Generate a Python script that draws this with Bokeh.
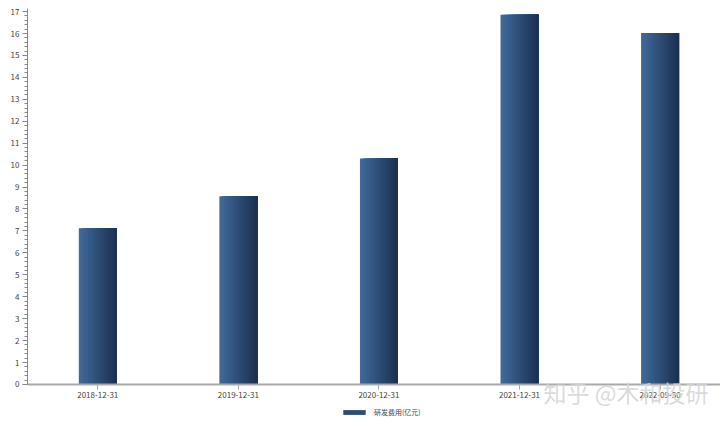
import numpy as np
from bokeh.plotting import figure
from bokeh.models import Range1d, FixedTicker, Legend, LegendItem, Label, ColumnDataSource
from bokeh.embed import file_html
from bokeh.resources import INLINE

categories = ["2018-12-31", "2019-12-31", "2020-12-31", "2021-12-31", "2022-09-30"]
rd_expense = [7.12, 8.58, 10.30, 16.85, 16.02]
series_name = "研发费用(亿元)"
y_ticks = list(range(0, 18))

FONT = "Noto Sans CJK SC"

p = figure(width=720, height=423, output_backend="svg", toolbar_location=None,
           x_range=Range1d(0, 4.93), y_range=Range1d(-1.78, 17.14),
           min_border_left=27, min_border_right=0, min_border_top=8, min_border_bottom=0,
           background_fill_color="white", border_fill_color="white", outline_line_color=None)
p.grid.visible = False

xc = np.arange(len(categories)) + 0.5
bar_w = 0.27
n = 16
c0 = np.array([0x3e, 0x69, 0x9a])
c1 = np.array([0x1c, 0x31, 0x52])
renderers = []
for i in range(n):
    t = i / (n - 1)
    col = c0 + (c1 - c0) * t
    hexc = "#%02x%02x%02x" % tuple(int(round(v)) for v in col)
    sw = bar_w / n
    left = xc - bar_w / 2 + sw * i
    right = xc + bar_w / 2
    src = ColumnDataSource(dict(x=(left + right) / 2, w=right - left, top=rd_expense))
    r = p.vbar(x="x", top="top", width="w", bottom=0, source=src,
               fill_color=hexc, line_color=None)
    renderers.append(r)

# y axis
ya = p.yaxis[0]
ya.bounds = (0, 17.14)
ya.ticker = FixedTicker(ticks=y_ticks, minor_ticks=list(np.arange(0, 17.01, 0.2)))
ya.axis_line_color = "#888888"
ya.major_tick_line_color = "#888888"
ya.minor_tick_line_color = "#888888"
ya.major_tick_out = 5
ya.major_tick_in = 0
ya.minor_tick_out = 3
ya.minor_tick_in = 0
ya.major_label_text_font = FONT
ya.major_label_text_font_size = "8px"
ya.major_label_text_color = "#444444"
ya.major_label_standoff = 3

# x axis
xa = p.xaxis[0]
xa.fixed_location = 0
xa.ticker = FixedTicker(ticks=list(xc))
xa.major_label_overrides = {float(x): c for x, c in zip(xc, categories)}
xa.axis_line_color = "#aaaaaa"
xa.axis_line_width = 2
xa.major_tick_line_color = "#aaaaaa"
xa.major_tick_out = 5
xa.major_tick_in = 0
xa.minor_tick_line_color = None
xa.major_label_text_font = FONT
xa.major_label_text_font_size = "8px"
xa.major_label_text_color = "#444444"
xa.major_label_standoff = 3

legend = Legend(items=[LegendItem(label=series_name, renderers=[renderers[n // 2]])],
                orientation="horizontal", location=(313, 6),
                label_text_font=FONT, label_text_font_size="7px", label_text_color="#444444",
                glyph_width=28, glyph_height=6, padding=2, margin=0, spacing=0,
                border_line_color=None, background_fill_alpha=0, label_standoff=6,
                label_height=10)
p.add_layout(legend, "center")

wm = Label(x=516, y=15, x_units="screen", y_units="screen", text="知乎 @木和投研",
           text_font=FONT, text_font_size="23px", text_color="#d4d4d4", text_alpha=0.85)
p.add_layout(wm)

open("out.html", "w").write(file_html(p, INLINE))
